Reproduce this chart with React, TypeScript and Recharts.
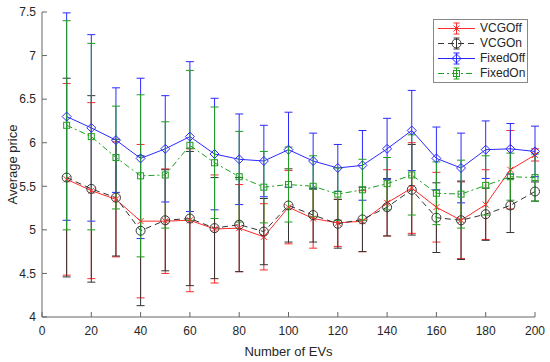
import { ComposedChart, Line, ErrorBar, XAxis, YAxis, Legend } from 'recharts';

const evCounts = [10, 20, 30, 40, 50, 60, 70, 80, 90, 100, 110, 120, 130, 140, 150, 160, 170, 180, 190, 200];

const vcgOff = [5.58, 5.45, 5.35, 5.10, 5.10, 5.11, 5.01, 5.02, 4.92, 5.26, 5.13, 5.08, 5.10, 5.31, 5.48, 5.26, 5.11, 5.29, 5.69, 5.86];
const vcgOffErr = [1.10, 1.01, 0.66, 0.88, 0.60, 0.82, 0.62, 0.50, 0.38, 0.42, 0.34, 0.27, 0.35, 0.38, 0.52, 0.40, 0.44, 0.40, 0.45, 0.07];

const vcgOn = [5.60, 5.47, 5.37, 4.99, 5.11, 5.13, 5.02, 5.06, 4.98, 5.28, 5.17, 5.07, 5.12, 5.26, 5.46, 5.14, 5.11, 5.18, 5.28, 5.44];
const vcgOnErr = [1.14, 1.07, 0.67, 0.86, 0.58, 0.77, 0.58, 0.54, 0.38, 0.42, 0.31, 0.28, 0.37, 0.33, 0.52, 0.40, 0.45, 0.30, 0.31, 0.11];

const fixedOff = [6.30, 6.17, 6.03, 5.82, 5.93, 6.07, 5.87, 5.81, 5.79, 5.92, 5.79, 5.71, 5.74, 5.93, 6.14, 5.82, 5.71, 5.92, 5.93, 5.90];
const fixedOffErr = [1.19, 1.07, 0.60, 0.92, 0.61, 0.86, 0.64, 0.52, 0.41, 0.43, 0.32, 0.27, 0.40, 0.35, 0.46, 0.36, 0.40, 0.33, 0.29, 0.29];

const fixedOn = [6.20, 6.07, 5.83, 5.62, 5.63, 5.97, 5.77, 5.61, 5.49, 5.52, 5.50, 5.41, 5.46, 5.53, 5.63, 5.42, 5.41, 5.51, 5.61, 5.60];
const fixedOnErr = [1.20, 1.07, 0.59, 0.93, 0.61, 0.86, 0.64, 0.52, 0.41, 0.43, 0.35, 0.30, 0.35, 0.30, 0.46, 0.36, 0.39, 0.34, 0.27, 0.27];

const xTicks = [0, 20, 40, 60, 80, 100, 120, 140, 160, 180, 200];
const yTicks = [4, 4.5, 5, 5.5, 6, 6.5, 7, 7.5];

const data = evCounts.map((n, i) => ({
  n,
  vcgOff: vcgOff[i],
  vcgOffErr: vcgOffErr[i],
  vcgOn: vcgOn[i],
  vcgOnErr: vcgOnErr[i],
  fixedOff: fixedOff[i],
  fixedOffErr: fixedOffErr[i],
  fixedOn: fixedOn[i],
  fixedOnErr: fixedOnErr[i],
}));

const FONT = '"Liberation Sans", Arial, sans-serif';
const TEXT = '#262626';
const AXIS = '#666';

type Kind = 'x' | 'circle' | 'diamond' | 'square';

const SERIES: { key: string; name: string; color: string; dash?: string; kind: Kind }[] = [
  { key: 'vcgOff', name: 'VCGOff', color: '#ff2a2a', kind: 'x' },
  { key: 'vcgOn', name: 'VCGOn', color: '#333333', dash: '6 4', kind: 'circle' },
  { key: 'fixedOff', name: 'FixedOff', color: '#2a2aff', kind: 'diamond' },
  { key: 'fixedOn', name: 'FixedOn', color: '#1f9f1f', dash: '6 3 2 3', kind: 'square' },
];

const marker = (kind: Kind, cx: number, cy: number, color: string, key?: string | number) => {
  if (kind === 'x') {
    const s = 3;
    return (
      <g key={key}>
        <line x1={cx - s} y1={cy - s} x2={cx + s} y2={cy + s} stroke={color} strokeWidth={1} />
        <line x1={cx - s} y1={cy + s} x2={cx + s} y2={cy - s} stroke={color} strokeWidth={1} />
      </g>
    );
  }
  if (kind === 'circle') {
    return <circle key={key} cx={cx} cy={cy} r={4.5} fill="none" stroke={color} strokeWidth={1} />;
  }
  if (kind === 'diamond') {
    const s = 4.5;
    return (
      <polygon
        key={key}
        points={`${cx},${cy - s} ${cx + s},${cy} ${cx},${cy + s} ${cx - s},${cy}`}
        fill="none"
        stroke={color}
        strokeWidth={1}
      />
    );
  }
  return <rect key={key} x={cx - 3} y={cy - 3} width={6} height={6} fill="none" stroke={color} strokeWidth={1} />;
};

const makeDot = (kind: Kind, color: string) => (props: any) =>
  marker(kind, props.cx, props.cy, color, `${kind}-${props.index}`);

const LegendBox = () => (
  <div
    style={{
      border: '1px solid #888',
      background: '#fff',
      padding: '1px 2px 1px 3px',
      fontFamily: FONT,
      fontSize: 12,
      color: TEXT,
      lineHeight: '15px',
    }}
  >
    {SERIES.map((s) => (
      <div key={s.key} style={{ display: 'flex', alignItems: 'center', height: 15 }}>
        <svg width={40} height={15} style={{ display: 'block' }}>
          <line x1={1} x2={38} y1={7.5} y2={7.5} stroke={s.color} strokeDasharray={s.dash} />
          <line x1={19.5} x2={19.5} y1={2} y2={13} stroke={s.color} />
          <line x1={16.5} x2={22.5} y1={2} y2={2} stroke={s.color} />
          <line x1={16.5} x2={22.5} y1={13} y2={13} stroke={s.color} />
          {marker(s.kind, 19.5, 7.5, s.color)}
        </svg>
        <span style={{ marginLeft: 3 }}>{s.name}</span>
      </div>
    ))}
  </div>
);

export default function App() {
  return (
    <div style={{ position: 'absolute', left: 0, top: 0, background: '#fff' }}>
      <ComposedChart width={550} height={362} data={data} margin={{ top: 12, right: 15, bottom: 5, left: 12 }}>
        <XAxis
          dataKey="n"
          type="number"
          domain={[0, 200]}
          ticks={xTicks}
          interval={0}
          height={40}
          stroke={AXIS}
          tickSize={-5}
          tickMargin={14}
          tick={{ fill: TEXT, fontSize: 12, fontFamily: FONT }}
          label={{ value: 'Number of EVs', position: 'insideBottom', offset: 1, fill: TEXT, fontSize: 13, fontFamily: FONT }}
        />
        <YAxis
          type="number"
          domain={[4, 7.5]}
          ticks={yTicks}
          interval={0}
          width={30}
          stroke={AXIS}
          tickSize={-5}
          tickMargin={11}
          tick={{ fill: TEXT, fontSize: 12, fontFamily: FONT }}
          label={{
            value: 'Average price',
            angle: -90,
            position: 'insideLeft',
            offset: 0,
            fill: TEXT,
            fontSize: 13,
            fontFamily: FONT,
            style: { textAnchor: 'middle' },
          }}
        />
        <Legend
          layout="vertical"
          align="center"
          verticalAlign="middle"
          content={() => <LegendBox />}
          wrapperStyle={{ top: 19, left: 433, width: 'auto' }}
        />
        {SERIES.map((s) => (
          <Line
            key={s.key}
            dataKey={s.key}
            name={s.name}
            stroke={s.color}
            strokeWidth={1}
            strokeDasharray={s.dash}
            dot={makeDot(s.kind, s.color)}
            activeDot={false}
            isAnimationActive={false}
          >
            <ErrorBar dataKey={`${s.key}Err`} direction="y" width={4} stroke={s.color} strokeWidth={1} />
          </Line>
        ))}
      </ComposedChart>
    </div>
  );
}
